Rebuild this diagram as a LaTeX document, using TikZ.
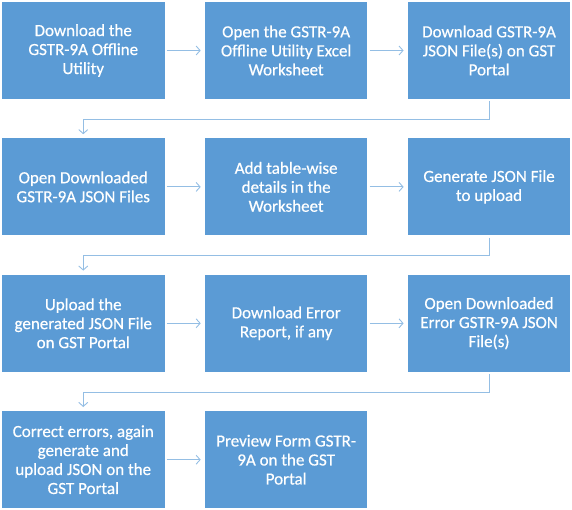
\documentclass[tikz,border=0pt]{standalone}
\usepackage{fontspec}
\setmainfont{Carlito}
\newfontfamily\boxfont{Carlito}[FakeBold=0.5]
\usepackage{xcolor}
\usetikzlibrary{arrows.meta, positioning}
\definecolor{stepblue}{HTML}{5B9BD5}
\definecolor{linkblue}{HTML}{94BEE4}

\begin{document}
\begin{tikzpicture}[
  x=1pt, y=-1pt,
  stepbox/.style={rectangle, fill=stepblue, text=white, align=center,
    minimum width=162.5pt, minimum height=97pt, inner sep=2pt,
    font=\boxfont\fontsize{17}{19}\selectfont},
  arrow/.style={-{Straight Barb[length=4pt, width=9pt]}, line width=0.9pt, draw=linkblue,
    shorten <=2pt, shorten >=4pt},
  node distance=39pt and 40pt
]
\useasboundingbox (0,0) rectangle (572,510);
% row 1
\node[stepbox] (offline) at (83.25,50.5) {Download the\\GSTR-9A Offline\\Utility};
\node[stepbox, right=of offline] (excel) {Open the GSTR-9A\\Offline Utility Excel\\Worksheet};
\node[stepbox, right=of excel] (dljson) {Download GSTR-9A\\JSON File(s) on GST\\Portal};
% row 2
\node[stepbox, below=of offline] (openjson) {Open Downloaded\\GSTR-9A JSON Files};
\node[stepbox, right=of openjson] (details) {Add table-wise\\details in the\\Worksheet};
\node[stepbox, right=of details] (genjson) {Generate JSON File\\to upload};
% row 3
\node[stepbox, below=of openjson] (upload) {Upload the\\generated JSON File\\on GST Portal};
\node[stepbox, right=of upload] (errreport) {Download Error\\Report, if any};
\node[stepbox, right=of errreport] (errjson) {Open Downloaded\\Error GSTR-9A JSON\\File(s)};
% row 4
\node[stepbox, below=of upload] (correct) {Correct errors, again\\generate and\\upload JSON on the\\GST Portal};
\node[stepbox, right=of correct] (preview) {Preview Form GSTR-\\9A on the GST\\Portal};

\draw[arrow] (offline) -- (excel);
\draw[arrow] (excel) -- (dljson);
\draw[arrow] (dljson.south) -- ++(0,20) -| (openjson.north);
\draw[arrow] (openjson) -- (details);
\draw[arrow] (details) -- (genjson);
\draw[arrow] (genjson.south) -- ++(0,20) -| (upload.north);
\draw[arrow] (upload) -- (errreport);
\draw[arrow] (errreport) -- (errjson);
\draw[arrow] (errjson.south) -- ++(0,20) -| (correct.north);
\draw[arrow] (correct) -- (preview);
\end{tikzpicture}
\end{document}
